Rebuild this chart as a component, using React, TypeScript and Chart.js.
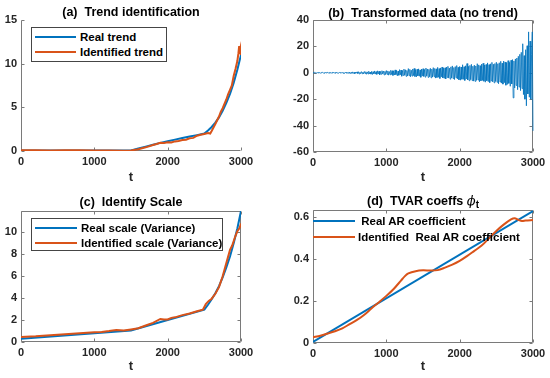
import React, { useEffect, useRef } from 'react';
import { Chart, registerables } from 'chart.js';

Chart.register(...registerables);

const FONT = '"Liberation Sans", Arial, Helvetica, sans-serif';
const BLUE = '#0072BD';
const RED = '#D95319';
const AXIS = '#7a7a7a';
const TEXT = '#262626';

// ---------- (a) Trend identification ----------
const realTrendT = [0, 500, 1000, 1500, 1600, 1700, 1800, 1900, 2000, 2100, 2200, 2300, 2400, 2500, 2550, 2600, 2650, 2700, 2750, 2800, 2850, 2900, 2950, 3000];
const realTrend = [0.05, 0.05, 0.05, 0.05, 0.28, 0.5, 0.72, 0.93, 1.12, 1.3, 1.48, 1.65, 1.82, 2.0, 2.35, 2.75, 3.25, 3.85, 4.6, 5.5, 6.55, 7.8, 9.3, 11.0];
const idTrendT = [0, 200, 400, 600, 800, 1000, 1200, 1400, 1500, 1600, 1700, 1800, 1850, 1900, 1950, 2000, 2050, 2100, 2150, 2200, 2250, 2300, 2350, 2400, 2450, 2500, 2550, 2580, 2600, 2625, 2650, 2700, 2725, 2750, 2800, 2825, 2850, 2875, 2900, 2925, 2950, 2965, 2975, 2985, 2992, 3000];
const idTrend = [0.08, 0.1, 0.07, 0.1, 0.08, 0.06, 0.05, 0.04, 0.06, 0.2, 0.42, 0.68, 0.8, 0.95, 0.92, 1.0, 0.98, 1.1, 1.15, 1.25, 1.3, 1.45, 1.5, 1.75, 1.85, 1.95, 2.05, 2.0, 2.3, 2.7, 3.1, 3.95, 4.5, 4.9, 5.9, 6.5, 7.0, 7.5, 8.6, 9.4, 10.3, 11.2, 12.0, 11.1, 11.6, 11.0];

// ---------- (b) Transformed data (sampled every 10 steps, 0..3000) ----------
const transformedStep = 10;
const transformed = [
  0.1, -0.2, 0.3, -0.1, 0.2, -0.3, 0.1, 0.2, -0.2, 0.1,
  -0.3, 0.2, -0.1, 0.3, -0.2, 0.1, -0.3, 0.2, 0.1, -0.2,
  0.3, -0.1, 0.2, -0.3, 0.1, -0.2, 0.3, -0.2, 0.2, -0.1,
  0.2, -0.3, 0.4, -0.2, 0.1, -0.4, 0.3, -0.1, 0.4, -0.3,
  0.3, -0.4, 0.2, -0.5, 0.4, -0.2, 0.5, -0.3, 0.2, -0.4,
  0.5, -0.6, 0.3, -0.4, 0.7, -0.5, 0.4, -0.7, 0.6, -0.3,
  0.7, -0.5, 0.8, -0.9, 0.4, -0.6, 0.9, -0.7, 0.5, -0.8,
  1.0, -0.6, 0.8, -1.1, 0.7, -0.9, 1.2, -0.8, 0.6, -1.0,
  1.1, -1.3, 0.8, -0.7, 1.4, -1.0, 0.9, -1.2, 1.5, -0.9,
  1.2, -1.5, 1.0, -1.1, 1.6, -0.8, 1.3, -1.6, 1.1, -1.3,
  1.7, -1.2, 1.4, -1.8, 1.0, -1.5, 1.9, -1.3, 1.6, -2.0,
  1.5, -1.7, 2.2, -1.4, 1.8, -2.3, 1.3, -1.9, 2.4, -1.6,
  2.1, -2.6, 1.7, -2.0, 2.8, -1.9, 2.3, -2.7, 1.8, -2.4,
  3.2, -2.2, 2.6, -3.0, 2.0, -2.5, 2.9, -2.1, 3.3, -2.8,
  2.4, -3.1, 2.7, -2.3, 3.0, -2.6, 2.2, -3.4, 2.8, -2.5,
  3.1, -2.7, 2.5, -3.3, 3.6, -2.4, 2.9, -3.5, 2.6, -3.0,
  3.4, -3.8, 2.8, -3.2, 3.9, -2.9, 3.3, -4.0, 3.0, -3.6,
  4.1, -3.4, 3.2, -4.3, 3.7, -3.1, 4.4, -3.9, 3.5, -4.2,
  3.8, -4.6, 4.3, -3.5, 4.9, -4.0, 3.6, -4.8, 4.5, -3.9,
  5.2, -4.4, 4.0, -5.1, 4.7, -3.8, 5.5, -4.6, 4.2, -5.3,
  4.8, -5.6, 4.4, -4.9, 6.1, -5.0, 4.6, -5.8, 5.3, -4.7,
  7.0, -5.4, 4.9, -6.0, 5.6, -5.2, 6.4, -5.9, 5.0, -6.3,
  5.8, -6.5, 5.2, -5.7, 6.9, -5.5, 6.0, -6.8, 5.4, -6.1,
  6.6, -5.8, 7.2, -6.4, 5.9, -7.1, 6.3, -6.0, 7.5, -6.7,
  6.2, -7.4, 6.8, -6.1, 7.9, -6.9, 6.5, -7.6, 7.0, -6.6,
  8.0, -7.2, 6.9, -8.3, 7.6, -7.0, 8.7, -7.8, 7.3, -8.6,
  8.9, -7.5, 8.2, -9.4, 7.7, -8.8, 9.2, -8.0, 7.9, -10.2,
  9.5, -8.4, 10.0, -19.0, 9.0, -11.5, 10.5, -9.6, 11.2, -12.8,
  12.5, -10.8, 14.0, -13.5, 15.5, -12.0, 22.0, -16.5, 13.0, -20.0,
  17.5, -25.0, 20.5, -16.0, 31.0, -18.5, 24.0, -20.0, 14.0, 31.0,
  -44.0,
];

// ---------- (c) Identify scale ----------
const realScaleT = [0, 500, 1000, 1500, 2000, 2500, 2550, 2600, 2650, 2700, 2750, 2800, 2850, 2900, 2950, 3000];
const realScale = [0.3, 0.55, 0.8, 1.05, 2.0, 2.95, 3.4, 3.9, 4.45, 5.1, 5.9, 6.8, 7.8, 9.0, 10.35, 11.95];
const idScaleT = [0, 200, 400, 600, 800, 1000, 1100, 1200, 1300, 1400, 1500, 1600, 1700, 1800, 1900, 1950, 2000, 2050, 2100, 2200, 2300, 2400, 2480, 2520, 2560, 2600, 2650, 2700, 2750, 2800, 2850, 2880, 2920, 2950, 2980, 3000];
const idScale = [0.45, 0.52, 0.62, 0.7, 0.8, 0.9, 0.92, 1.0, 1.1, 1.05, 1.15, 1.25, 1.5, 1.75, 2.1, 2.05, 2.05, 2.2, 2.25, 2.45, 2.6, 2.8, 2.95, 3.45, 3.75, 3.95, 4.4, 5.0, 6.0, 7.2, 8.4, 8.8, 9.6, 10.1, 10.4, 10.8];

// ---------- (d) TVAR coefficients ----------
const realArT = [0, 3000];
const realAr = [0.005, 0.63];
const idArT = [0, 100, 200, 300, 400, 500, 600, 700, 800, 900, 1000, 1100, 1200, 1250, 1300, 1400, 1500, 1600, 1700, 1800, 1900, 2000, 2100, 2200, 2300, 2400, 2500, 2600, 2700, 2750, 2800, 2850, 2900, 3000];
const idAr = [0.028, 0.035, 0.045, 0.056, 0.07, 0.09, 0.11, 0.135, 0.166, 0.195, 0.225, 0.258, 0.298, 0.318, 0.332, 0.343, 0.347, 0.346, 0.348, 0.36, 0.374, 0.392, 0.415, 0.44, 0.465, 0.5, 0.535, 0.565, 0.59, 0.596, 0.588, 0.582, 0.585, 0.587];

const xTickStep = 1000;

const pts = (t: number[], v: number[]) => v.map((y, i) => ({ x: t[i], y }));

function makeFrame(box: boolean) {
  return {
    id: 'frame',
    beforeDatasetsDraw(chart: any) {
      const { ctx, chartArea: a, scales } = chart;
      const L = Math.round(a.left) + 0.5;
      const R = Math.round(a.right) - 0.5;
      const T = Math.round(a.top) + 0.5;
      const B = Math.round(a.bottom) - 0.5;
      const tl = 3;
      ctx.save();
      ctx.strokeStyle = AXIS;
      ctx.lineWidth = 1;
      ctx.beginPath();
      ctx.moveTo(L, T);
      ctx.lineTo(L, B);
      ctx.lineTo(R, B);
      if (box) {
        ctx.lineTo(R, T);
        ctx.lineTo(L, T);
      }
      for (const t of scales.x.ticks) {
        const px = Math.round(scales.x.getPixelForValue(t.value)) + 0.5;
        ctx.moveTo(px, B);
        ctx.lineTo(px, B - tl);
        if (box) {
          ctx.moveTo(px, T);
          ctx.lineTo(px, T + tl);
        }
      }
      for (const t of scales.y.ticks) {
        const py = Math.round(scales.y.getPixelForValue(t.value)) + 0.5;
        ctx.moveTo(L, py);
        ctx.lineTo(L + tl, py);
        if (box) {
          ctx.moveTo(R, py);
          ctx.lineTo(R - tl, py);
        }
      }
      ctx.stroke();
      ctx.restore();
    },
  };
}

type Rect = { l: number; t: number; r: number; b: number };

type PanelProps = {
  left: number;
  top: number;
  plot: Rect;
  yMin: number;
  yMax: number;
  yStep: number;
  box: boolean;
  datasets: any[];
};

const W = 275;
const H = 189;

function Panel({ left, top, plot, yMin, yMax, yStep, box, datasets }: PanelProps) {
  const ref = useRef<HTMLCanvasElement | null>(null);
  useEffect(() => {
    if (!ref.current) return;
    const tickFont = { family: FONT, size: 11, weight: 'bold' as const };
    const chart = new Chart(ref.current, {
      type: 'line',
      data: { datasets },
      options: {
        responsive: false,
        animation: false,
        devicePixelRatio: 1,
        layout: { padding: { left: 0, top: plot.t - top, right: left + W - plot.r, bottom: 0 } },
        plugins: { legend: { display: false }, tooltip: { enabled: false }, title: { display: false } },
        elements: { point: { radius: 0 } },
        scales: {
          x: {
            type: 'linear',
            min: 0,
            max: 3000,
            grid: { display: false, drawTicks: false },
            border: { display: false },
            ticks: {
              stepSize: xTickStep,
              padding: 4,
              color: TEXT,
              font: tickFont,
              maxRotation: 0,
              autoSkip: false,
              callback: (v: any) => String(v),
            },
            title: {
              display: true,
              text: 't',
              color: TEXT,
              font: { family: FONT, size: 13, weight: 'bold' },
              padding: { top: 0, bottom: 4 },
            },
            afterFit: (s: any) => {
              s.height = top + H - plot.b;
            },
          },
          y: {
            type: 'linear',
            min: yMin,
            max: yMax,
            grid: { display: false, drawTicks: false },
            border: { display: false },
            ticks: {
              stepSize: yStep,
              includeBounds: false,
              padding: 4,
              color: TEXT,
              font: tickFont,
              autoSkip: false,
              callback: (v: any) => String(+Number(v).toFixed(2)),
            },
            afterFit: (s: any) => {
              s.width = plot.l - left;
            },
          },
        },
      } as any,
      plugins: [makeFrame(box)],
    });
    return () => chart.destroy();
  }, []);
  return (
    <canvas
      ref={ref}
      width={W}
      height={H}
      style={{ position: 'absolute', left, top, width: W, height: H }}
    />
  );
}

type LegendRow = { color: string; text: string; y: number; x1: number; x2: number; tx: number };

function Legend({ rows, frame }: { rows: LegendRow[]; frame?: Rect }) {
  return (
    <>
      {frame && (
        <div
          style={{
            position: 'absolute',
            left: frame.l,
            top: frame.t,
            width: frame.r - frame.l,
            height: frame.b - frame.t,
            border: '1px solid #454545',
            background: '#fff',
            boxSizing: 'border-box',
          }}
        />
      )}
      {rows.map((r, i) => (
        <React.Fragment key={i}>
          <div
            style={{
              position: 'absolute',
              left: r.x1,
              top: r.y - 1,
              width: r.x2 - r.x1,
              height: 2,
              background: r.color,
            }}
          />
          <div
            style={{
              position: 'absolute',
              left: r.tx,
              top: r.y - 8,
              height: 16,
              lineHeight: '16px',
              fontSize: 11.5,
              fontWeight: 'bold',
              color: '#000',
              whiteSpace: 'pre',
              fontFamily: FONT,
            }}
          >
            {r.text}
          </div>
        </React.Fragment>
      ))}
    </>
  );
}

function Title({ plot, y, children }: { plot: Rect; y: number; children: React.ReactNode }) {
  return (
    <div
      style={{
        position: 'absolute',
        left: plot.l - 20,
        width: plot.r - plot.l + 40,
        top: y - 8,
        height: 16,
        lineHeight: '16px',
        textAlign: 'center',
        fontSize: 12.5,
        fontWeight: 'bold',
        color: '#000',
        whiteSpace: 'pre',
        fontFamily: FONT,
      }}
    >
      {children}
    </div>
  );
}

const plotA: Rect = { l: 21, t: 20, r: 241, b: 151 };
const plotB: Rect = { l: 313, t: 20, r: 533, b: 152 };
const plotC: Rect = { l: 21, t: 211, r: 241, b: 342 };
const plotD: Rect = { l: 313, t: 210, r: 533, b: 343 };

const line = (data: any[], color: string, width: number, order: number, tension = 0, clip: any = undefined) => ({
  data,
  borderColor: color,
  backgroundColor: color,
  borderWidth: width,
  pointRadius: 0,
  fill: false,
  tension,
  order,
  ...(clip !== undefined ? { clip } : {}),
});

export default function App() {
  useEffect(() => {
    document.body.style.margin = '0';
  }, []);

  const dsA = [
    line(pts(realTrendT, realTrend), BLUE, 2, 2),
    line(pts(idTrendT, idTrend), RED, 2, 1),
  ];
  const dsB = [
    line(transformed.map((y, i) => ({ x: i * transformedStep, y })), BLUE, 0.8, 1, 0, false),
  ];
  const dsC = [
    line(pts(realScaleT, realScale), BLUE, 2, 2),
    line(pts(idScaleT, idScale), RED, 2, 1),
  ];
  const dsD = [
    line(pts(realArT, realAr), BLUE, 2, 2),
    line(pts(idArT, idAr), RED, 2, 1, 0.3),
  ];

  return (
    <div
      style={{
        position: 'absolute',
        left: 0,
        top: 0,
        width: 550,
        height: 378,
        background: '#fff',
        overflow: 'hidden',
        fontFamily: FONT,
      }}
    >
      <Panel left={0} top={0} plot={plotA} yMin={0} yMax={15} yStep={5} box={false} datasets={dsA} />
      <Panel left={275} top={0} plot={plotB} yMin={-60} yMax={40} yStep={20} box={true} datasets={dsB} />
      <Panel left={0} top={189} plot={plotC} yMin={0} yMax={11.95} yStep={2} box={true} datasets={dsC} />
      <Panel left={275} top={189} plot={plotD} yMin={0} yMax={0.635} yStep={0.2} box={true} datasets={dsD} />

      <Title plot={plotA} y={12.3}>{'(a)  Trend identification'}</Title>
      <Title plot={plotB} y={13.3}>{'(b)  Transformed data (no trend)'}</Title>
      <Title plot={plotC} y={202.3}>{'(c)  Identify Scale'}</Title>
      <Title plot={plotD} y={201}>
        {'(d)  TVAR coeffs '}
        <span style={{ fontStyle: 'italic', fontFamily: '"DejaVu Serif", serif', fontWeight: 'normal', fontSize: 13 }}>ϕ</span>
        <span style={{ fontSize: 10, position: 'relative', top: 3 }}>t</span>
      </Title>

      <Legend
        frame={{ l: 31, t: 27, r: 167, b: 62 }}
        rows={[
          { color: BLUE, text: 'Real trend', y: 37, x1: 35, x2: 76, tx: 80 },
          { color: RED, text: 'Identified trend', y: 52, x1: 35, x2: 76, tx: 80 },
        ]}
      />
      <Legend
        frame={{ l: 31, t: 218, r: 223, b: 251 }}
        rows={[
          { color: BLUE, text: 'Real scale (Variance)', y: 228, x1: 35, x2: 77, tx: 81 },
          { color: RED, text: 'Identified scale (Variance)', y: 243, x1: 35, x2: 77, tx: 81 },
        ]}
      />
      <Legend
        rows={[
          { color: BLUE, text: ' Real AR coefficient', y: 221, x1: 313, x2: 355, tx: 358 },
          { color: RED, text: 'Identified  Real AR coefficient', y: 237, x1: 313, x2: 355, tx: 358 },
        ]}
      />
    </div>
  );
}
